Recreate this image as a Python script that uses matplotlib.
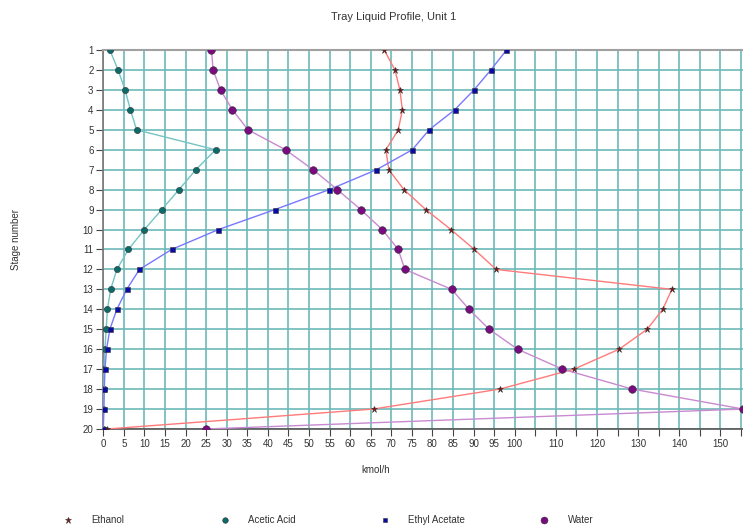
import matplotlib
matplotlib.use("Agg")
import numpy as np
from matplotlib import pyplot as plt
from matplotlib.lines import Line2D

plt.rcParams['font.family'] = ['Liberation Sans', 'DejaVu Sans']

stages = list(range(1, 21))

ethanol = [68.3, 70.9, 72.1, 72.7, 71.7, 68.7, 69.4, 73.1, 78.4, 84.5,
           90.2, 95.5, 138.2, 136.0, 132.2, 125.4, 114.4, 96.4, 65.7, 1.0]
acetic_acid = [1.6, 3.6, 5.3, 6.6, 8.1, 27.3, 22.5, 18.4, 14.2, 10.0,
               6.1, 3.3, 1.8, 1.0, 0.7, 0.4, 0.2, 0.1, 0.05, 0.0]
ethyl_acetate = [98.0, 94.2, 90.1, 85.4, 79.2, 75.1, 66.4, 54.9, 41.7, 28.0,
                 16.6, 8.8, 5.7, 3.3, 1.6, 0.8, 0.4, 0.25, 0.15, 0.0]
water = [26.3, 26.7, 28.5, 31.4, 35.2, 44.3, 51.0, 56.9, 62.6, 67.8,
         71.7, 73.3, 84.7, 88.9, 93.8, 100.7, 111.6, 128.6, 155.5, 25.0]

series = [
    # name, data, line colour, marker, marker colour, marker size
    ("Ethanol", ethanol, "#ff7a7a", "*", "#8b0a0a", 5),
    ("Acetic Acid", acetic_acid, "#74c4c4", "o", "#0b6b6b", 4.5),
    ("Ethyl Acetate", ethyl_acetate, "#7878ff", "s", "#0a0aa8", 3.6),
    ("Water", water, "#c88ad0", "o", "#7a0a80", 5.5),
]

x_major = np.arange(0, 156, 5)
x_labels = [str(v) if (v <= 100 or v % 10 == 0) else "" for v in x_major]

fig = plt.figure(figsize=(7.43, 5.27), dpi=100)
ax = fig.add_axes([0.139, 0.186, 0.861, 0.719])

for name, vals, lc, mk, mc, ms in series:
    ax.plot(vals, stages, color=lc, lw=1.0, marker=mk, markersize=ms,
            markerfacecolor=mc, markeredgecolor="#333333", markeredgewidth=0.4,
            zorder=3)

ax.set_xlim(0, 155.5)
ax.set_ylim(20, 1)
ax.set_xticks(x_major)
ax.set_xticklabels(x_labels)
ax.set_yticks(stages)
ax.tick_params(axis="both", labelsize=7, length=5, width=0.8, color="#444444",
               labelcolor="#333333", pad=2)
ax.grid(True, color="#6cb8b8", lw=1.4, alpha=0.85)
ax.set_axisbelow(True)

ax.spines["right"].set_visible(False)
ax.spines["top"].set_color("#a0a0a0")
ax.spines["top"].set_linewidth(1.5)
ax.spines["left"].set_color("#777777")
ax.spines["left"].set_linewidth(1.2)
ax.spines["bottom"].set_color("#555555")
ax.spines["bottom"].set_linewidth(1.2)

fig.text(0.53, 0.968, "Tray Liquid Profile, Unit 1", ha="center", va="center",
         fontsize=8, color="#333333")
fig.text(0.505, 0.108, "kmol/h", ha="center", va="center", fontsize=7, color="#333333")
fig.text(0.022, 0.545, "Stage number", ha="center", va="center", rotation=90,
         fontsize=7, color="#333333")

# legend row at the bottom, one entry per series
leg_x = [0.097, 0.308, 0.523, 0.738]
for (name, vals, lc, mk, mc, ms), lx in zip(series, leg_x):
    h = Line2D([], [], linestyle="none", marker=mk, markersize=ms - 0.5,
               markerfacecolor=mc, markeredgecolor="#333333", markeredgewidth=0.4)
    leg = fig.legend([h], [name], loc="center left", bbox_to_anchor=(lx - 0.012, 0.013),
                     frameon=False, fontsize=7, handlelength=1.0, handletextpad=1.9,
                     borderpad=0, borderaxespad=0)
    for t in leg.get_texts():
        t.set_color("#333333")

fig.savefig("out.png", dpi=100)
